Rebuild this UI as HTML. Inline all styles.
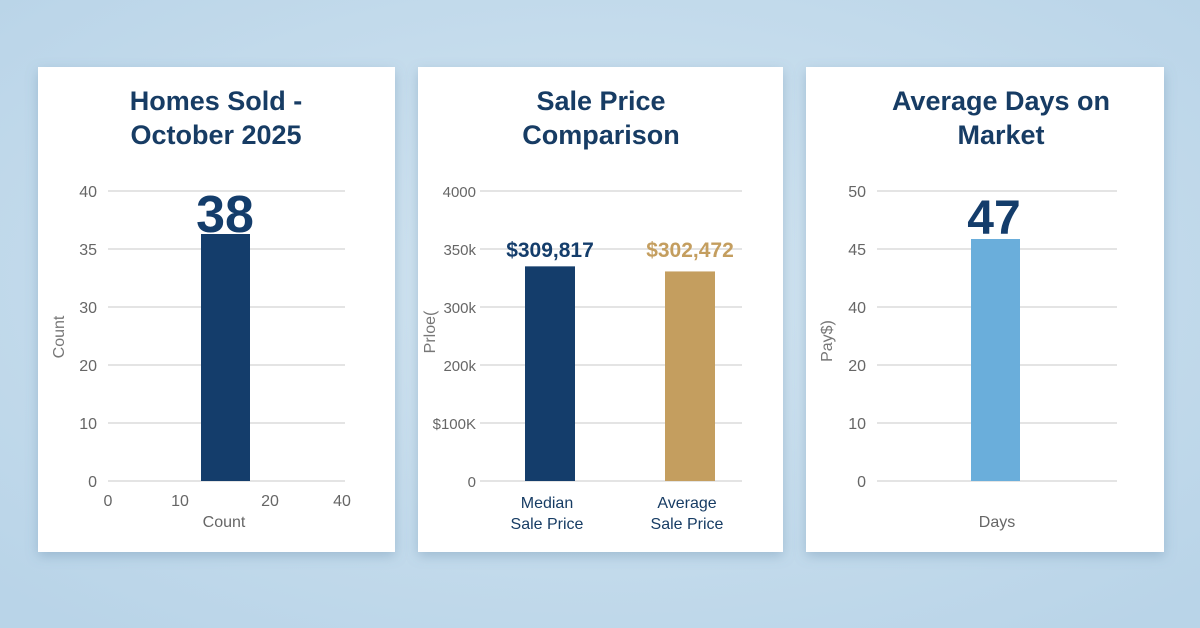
<!DOCTYPE html>
<html><head><meta charset="utf-8">
<style>
html,body{margin:0;padding:0;width:1200px;height:628px;overflow:hidden;background:#c3dbec;}
svg{display:block;font-family:"Liberation Sans",sans-serif;}
</style></head>
<body>
<svg id="chart" width="1200" height="628" viewBox="0 0 1200 628">
<defs>
<radialGradient id="bg" cx="50%" cy="45%" r="70%">
<stop offset="0" stop-color="#d3e5f1"/><stop offset="1" stop-color="#b9d4e8"/>
</radialGradient>
<filter id="sh" x="-10%" y="-10%" width="120%" height="125%"><feDropShadow dx="0" dy="4" stdDeviation="6" flood-color="#5a7fa0" flood-opacity="0.35"/></filter>
</defs>
<rect width="1200" height="628" fill="url(#bg)"/>
</svg>
<script>
// Panel 1: Homes sold
const p1Ticks = ["0","10","20","30","35","40"];
const p1XTicks = ["0","10","20","40"];
const p1Categories = ["Count"];
const p1Values = [38];
// Panel 2: Sale price
const p2Ticks = ["0","$100K","200k","300k","350k","4000"];
const p2Categories = [["Median","Sale Price"],["Average","Sale Price"]];
const p2Values = [309817, 302472];
const p2Labels = ["$309,817","$302,472"];
// Panel 3: Days on market
const p3Ticks = ["0","10","20","40","45","50"];
const p3Categories = ["Days"];
const p3Values = [47];

const NS = "http://www.w3.org/2000/svg";
const svg = document.getElementById("chart");
function mk(tag, attrs, parent, text){
  const e = document.createElementNS(NS, tag);
  for (const k in attrs) e.setAttribute(k, attrs[k]);
  if (text !== undefined) e.textContent = text;
  (parent || svg).appendChild(e);
  return e;
}
const BASE = 481, STEP = 58;
function tickY(i){ return BASE - i*STEP; }

function panel(x, w, name){
  const g = mk("g", {});
  
  
  const r = mk("rect", {x:x, y:67, width:w, height:485, fill:"#ffffff", filter:"url(#sh)"}, g);
  
  
  return g;
}
function title(g, cx, lines, name){
  lines.forEach((l, i) => {
    const t = mk("text", {x:cx, y:110 + i*34, "text-anchor":"middle", "font-size":27, "font-weight":"bold", fill:"#173c64"}, g, l);
    
    
  });
}
function grid(g, x1, x2, ticks, lx, name, fs){
  ticks.forEach((tk, i) => {
    const y = tickY(i);
    const ln = mk("line", {x1:x1, x2:x2, y1:y, y2:y, stroke:"#dcdcdc", "stroke-width":1.5}, g);
    
    
    const t = mk("text", {x:lx, y:y+6, "text-anchor":"end", "font-size":fs || 16, fill:"#666"}, g, tk);
    
    
  });
}
function ytitle(g, x, y, label, name){
  const t = mk("text", {x:x, y:y, "text-anchor":"middle", "font-size":16, fill:"#777", transform:"rotate(-90 "+x+" "+y+")"}, g, label);
  
  
}

// ---------- Panel 1 ----------
const g1 = panel(38, 357, "homes-sold-panel");
title(g1, 216, ["Homes Sold -", "October 2025"], "homes-sold-title");
grid(g1, 108, 345, p1Ticks, 97, "homes-sold");
const y1 = v => BASE - v * (247/38);
p1Values.forEach((v, i) => {
  const b = mk("rect", {x:201, y:y1(v), width:49, height:BASE - y1(v), fill:"#143d6b"}, g1);
  
  
  const t = mk("text", {x:225, y:y1(v)-2, "text-anchor":"middle", "font-size":52, "font-weight":"bold", fill:"#143d6b"}, g1, String(v));
  
  
});
const p1xPos = [108, 180, 270, 342];
p1XTicks.forEach((tk, i) => {
  const t = mk("text", {x:p1xPos[i], y:506, "text-anchor":"middle", "font-size":16, fill:"#666"}, g1, tk);
  
  
});
p1Categories.forEach(c => {
  const t = mk("text", {x:224, y:527, "text-anchor":"middle", "font-size":16, fill:"#666"}, g1, c);
  
  
});
ytitle(g1, 64, 337, "Count", "homes-sold-y-axis-title");

// ---------- Panel 2 ----------
const g2 = panel(418, 365, "sale-price-panel");
title(g2, 601, ["Sale Price", "Comparison"], "sale-price-title");
grid(g2, 480, 742, p2Ticks, 476, "sale-price", 15);
const y2 = v => BASE - v * (212/306000);
const p2Colors = ["#143d6b", "#c49e5f"];
const p2X = [525, 665];
p2Values.forEach((v, i) => {
  const b = mk("rect", {x:p2X[i], y:y2(v), width:50, height:BASE - y2(v), fill:p2Colors[i]}, g2);
  
  
  const t = mk("text", {x:p2X[i]+25, y:257, "text-anchor":"middle", "font-size":21, "font-weight":"bold", fill:p2Colors[i]}, g2, p2Labels[i]);
  
  
  p2Categories[i].forEach((l, j) => {
    const c = mk("text", {x:p2X[i]+22, y:508 + j*21, "text-anchor":"middle", "font-size":16, fill:"#173c64"}, g2, l);
    
    
  });
});
ytitle(g2, 435, 332, "Prloe(", "sale-price-y-axis-title");

// ---------- Panel 3 ----------
const g3 = panel(806, 358, "days-on-market-panel");
title(g3, 1001, ["Average Days on", "Market"], "days-on-market-title");
grid(g3, 877, 1117, p3Ticks, 866, "days-on-market");
const y3 = v => BASE - v * (242/47);
p3Values.forEach(v => {
  const b = mk("rect", {x:971, y:y3(v), width:49, height:BASE - y3(v), fill:"#6aaedb"}, g3);
  
  
  const t = mk("text", {x:994, y:y3(v)-5, "text-anchor":"middle", "font-size":48, "font-weight":"bold", fill:"#143d6b"}, g3, String(v));
  
  
});
p3Categories.forEach(c => {
  const t = mk("text", {x:997, y:527, "text-anchor":"middle", "font-size":16, fill:"#666"}, g3, c);
  
  
});
ytitle(g3, 832, 341, "Pay$)", "days-on-market-y-axis-title");
</script>
</body></html>
